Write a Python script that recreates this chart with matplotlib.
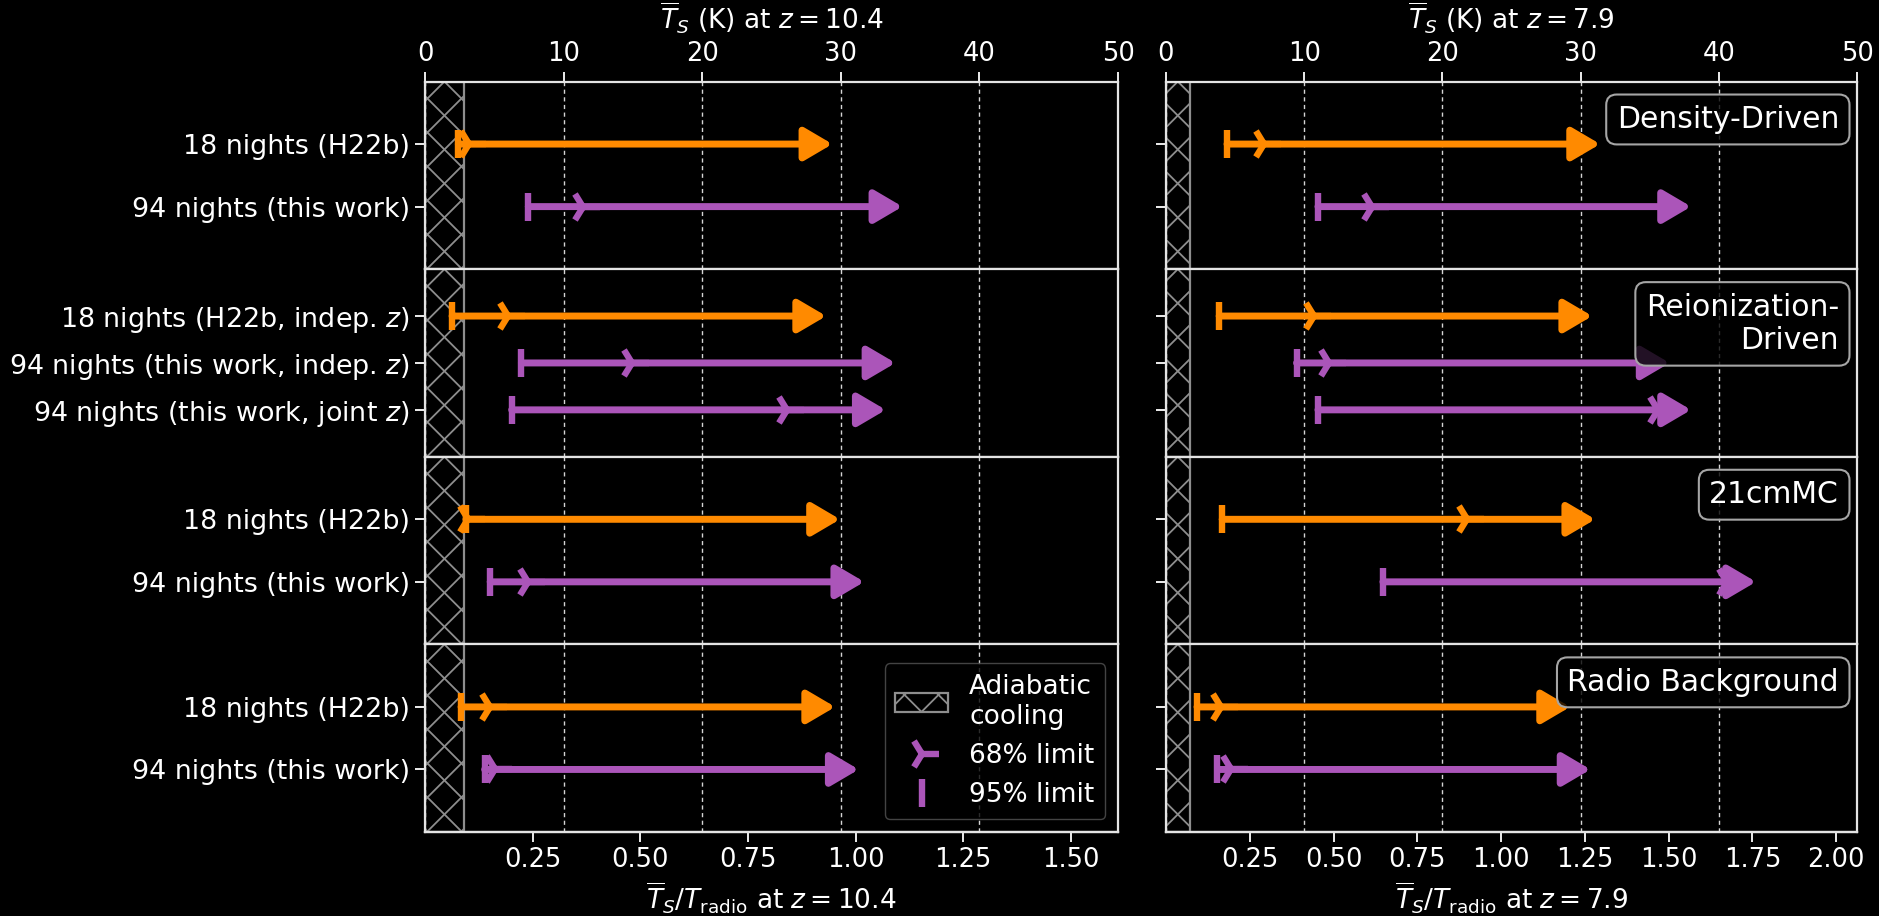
import numpy as np
import matplotlib
matplotlib.use("Agg")
import matplotlib.pyplot as plt
from matplotlib.patches import Rectangle, Patch
from matplotlib.lines import Line2D
from matplotlib.legend_handler import HandlerBase

# ---------------------------------------------------------------- data
redshifts = [10.4, 7.9]
t_radio = [31.07, 24.25]          # K, radio background temperature at each z
t_adiabatic = [2.8, 1.72]         # K, adiabatic-cooling floor at each z
ratio_ticks = [[0.25, 0.50, 0.75, 1.00, 1.25, 1.50],
               [0.25, 0.50, 0.75, 1.00, 1.25, 1.50, 1.75, 2.00]]

model_names = ["Density-Driven", "Reionization-\nDriven", "21cmMC", "Radio Background"]

row_labels = [
    ["18 nights (H22b)", "94 nights (this work)"],
    ["18 nights (H22b, indep. $z$)", "94 nights (this work, indep. $z$)",
     "94 nights (this work, joint $z$)"],
    ["18 nights (H22b)", "94 nights (this work)"],
    ["18 nights (H22b)", "94 nights (this work)"],
]
row_kind = [
    ["H22b", "this"],
    ["H22b", "this", "this"],
    ["H22b", "this"],
    ["H22b", "this"],
]

# lower limits on mean spin temperature (K), per model and row
lim95_z104 = [[2.4, 7.45], [1.95, 6.95, 6.25], [2.95, 4.7], [2.6, 4.3]]
lim68_z104 = [[3.2, 11.4], [6.0, 14.9, 26.1], [3.1, 7.4], [4.7, 5.05]]
lim95_z79 = [[4.42, 11.0], [3.85, 9.45, 11.0], [4.07, 15.7], [2.25, 3.73]]
lim68_z79 = [[7.1, 14.9], [10.7, 11.8, 35.6], [21.8, 40.6], [3.98, 4.7]]
lim95 = [lim95_z104, lim95_z79]
lim68 = [lim68_z104, lim68_z79]

# ---------------------------------------------------------------- style
ORANGE = "#ff8a00"
PURPLE = "#ab55b9"
colors = {"H22b": ORANGE, "this": PURPLE}
HATCH_COL = "#8e8e8e"
SPINE_COL = "#e4e4e4"
ARROW_LEN = 27.0       # K, drawn length of the lower-limit arrows
HATCH_STEP = 34.0      # px between hatch lines

fig = plt.figure(figsize=(18.79, 9.16), dpi=100)
fig.patch.set_facecolor("black")

col_left = [0.2262, 0.6205]
col_w = [0.3688, 0.3678]
top, bottom = 0.911, 0.0917
h = (top - bottom) / 4


def add_hatch(ax, xmax, y0, y1):
    rect = Rectangle((0, y0), xmax, y1 - y0, facecolor="none",
                     edgecolor=HATCH_COL, lw=1.6, zorder=1.5)
    ax.add_patch(rect)
    sx = ax.bbox.width / 50.0
    sy = ax.bbox.height / abs(y1 - y0)
    w = xmax * sx
    hh = ax.bbox.height
    kmax = int(np.ceil((w + hh) / HATCH_STEP)) + 2
    for k in range(-kmax, kmax + 1):
        c = w / 2 + k * HATCH_STEP
        for sgn in (1, -1):
            u = np.array([c, c + sgn * hh])
            v = np.array([0, hh])
            ln, = ax.plot(u / sx, y0 + v / sy, color=HATCH_COL, lw=1.3,
                          zorder=1.4, scalex=False, scaley=False)
            ln.set_clip_path(rect)


class HatchHandler(HandlerBase):
    def create_artists(self, legend, orig_handle, xdescent, ydescent,
                       width, height, fontsize, trans):
        rect = Rectangle((-xdescent, -ydescent), width, height,
                         facecolor="none", edgecolor=HATCH_COL, lw=1.6,
                         transform=trans)
        step = HATCH_STEP * 72.0 / fig.dpi
        arts = [rect]
        x0, yb = -xdescent, -ydescent
        for k in range(-4, 6):
            c = x0 + width / 2 + k * step
            for sgn in (1, -1):
                ln = Line2D([c, c + sgn * height], [yb, yb + height],
                            color=HATCH_COL, lw=1.3, transform=trans)
                ln.set_clip_path(rect)
                arts.append(ln)
        return arts


for c in range(2):
    z = redshifts[c]
    tr = t_radio[c]
    for p in range(4):
        ax = fig.add_axes([col_left[c], top - (p + 1) * h, col_w[c], h])
        ax.set_facecolor("black")
        n = len(row_labels[p])
        ax.set_xlim(0, 50)
        ax.set_ylim(n, -1)

        add_hatch(ax, t_adiabatic[c], -1, n)

        for r in range(n):
            col = colors[row_kind[p][r]]
            x95 = lim95[c][p][r]
            x68 = lim68[c][p][r]
            ax.annotate("", xy=(x95 + ARROW_LEN, r), xytext=(x95, r),
                        arrowprops=dict(arrowstyle="-|>,head_length=0.85,head_width=0.5",
                                        color=col, lw=5, shrinkA=0, shrinkB=0,
                                        mutation_scale=20),
                        annotation_clip=False, zorder=3)
            ax.plot([x95], [r], marker="|", ms=20, mew=4.6, color=col,
                    ls="none", zorder=4)
            ax.plot([x68], [r], marker="4", ms=24, mew=4.6, color=col,
                    ls="none", zorder=4)

        ax.set_xlim(0, 50)
        ax.set_ylim(n, -1)
        ax.set_xticks(np.arange(0, 51, 10))
        ax.set_yticks(range(n))
        if c == 0:
            ax.set_yticklabels(row_labels[p])
        else:
            ax.set_yticklabels([])
        ax.grid(axis="x", color="#d5d5d5", ls=(0, (3, 2.5)), lw=1.0)
        ax.set_axisbelow(True)
        ax.tick_params(axis="x", bottom=False, top=(p == 0), labelbottom=False,
                       labeltop=(p == 0), colors="white", labelsize=18.5,
                       length=7, width=1.3)
        ax.tick_params(axis="y", colors="white", labelsize=19.4, length=7,
                       width=1.3, pad=4)
        for s in ax.spines.values():
            s.set_color(SPINE_COL)
            s.set_linewidth(1.6)

        if p == 0:
            ax.xaxis.set_label_position("top")
            ax.set_xlabel(r"$\overline{T}_S$ (K) at $z=%s$" % z, color="white",
                          fontsize=19, labelpad=8)
        if p == 3:
            sec = ax.secondary_xaxis(
                "bottom",
                functions=(lambda t, tr=tr: t / tr, lambda q, tr=tr: q * tr))
            sec.set_xticks(ratio_ticks[c])
            sec.tick_params(colors="white", labelsize=18.5, length=7, width=1.3)
            sec.spines["bottom"].set_color(SPINE_COL)
            sec.spines["bottom"].set_linewidth(1.6)
            sec.set_xlabel(r"$\overline{T}_S/T_{\rm radio}$ at $z=%s$" % z,
                           color="white", fontsize=19, labelpad=6)

        if c == 1:
            ax.text(0.974, 0.875, model_names[p], transform=ax.transAxes,
                    ha="right", va="top", ma="right", fontsize=21.5,
                    color="white", zorder=6,
                    bbox=dict(boxstyle="round,pad=0.35", fc=(0, 0, 0, 0.8),
                              ec="#a5a5a5", lw=1.5))

        if c == 0 and p == 3:
            handles = [Patch(),
                       Line2D([], [], marker="4", ms=24, mew=4.6, color=PURPLE,
                              ls="none"),
                       Line2D([], [], marker="|", ms=20, mew=4.6,
                              color=PURPLE, ls="none")]
            leg = ax.legend(handles, ["Adiabatic\ncooling", "68% limit", "95% limit"],
                            handler_map={Patch: HatchHandler()},
                            loc="lower right", fontsize=19, facecolor="black",
                            edgecolor="#555555", labelcolor="white",
                            framealpha=0.8)
            leg.set_zorder(7)

fig.savefig("out.png", dpi=100, facecolor="black")
